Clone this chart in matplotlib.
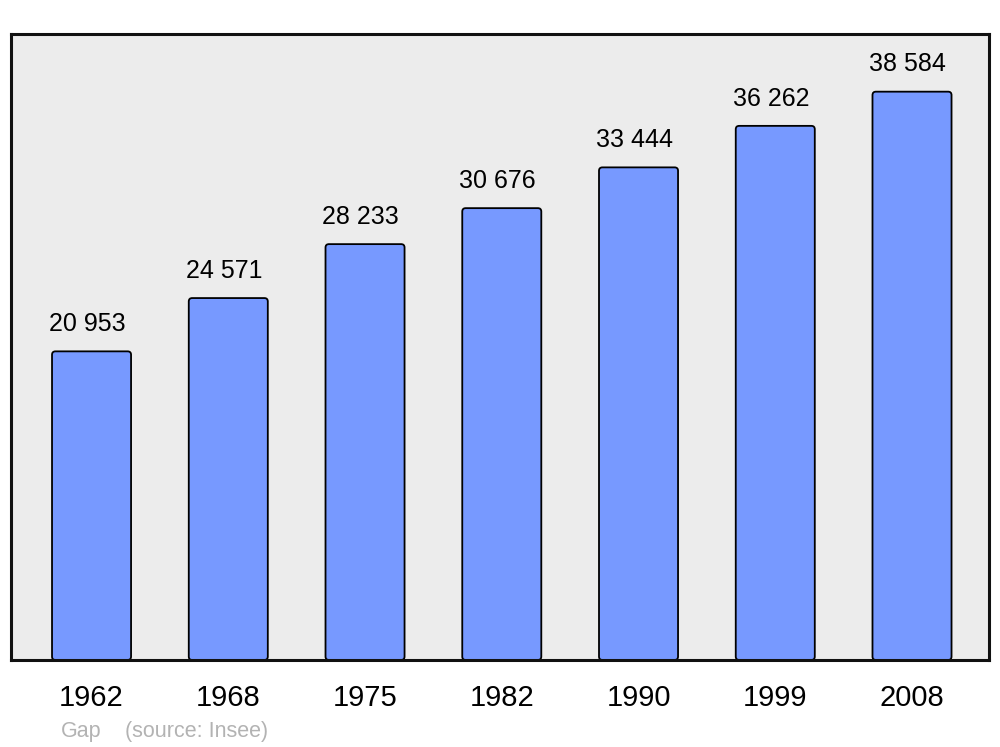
import matplotlib.pyplot as plt
from matplotlib.patches import FancyBboxPatch

plt.rcParams['font.family'] = ['Liberation Sans', 'DejaVu Sans']

# Data
years = ['1962', '1968', '1975', '1982', '1990', '1999', '2008']
population = [20953, 24571, 28233, 30676, 33444, 36262, 38584]
value_labels = ['20 953', '24 571', '28 233', '30 676', '33 444', '36 262', '38 584']

fig = plt.figure(figsize=(10, 7.47), dpi=100)
ax = fig.add_axes([0.011, 0.1165, 0.978, 0.838])
ax.set_facecolor('#ececec')

x = range(len(years))
bars = ax.bar(x, population, width=0.578, color='#7799ff', edgecolor='black', linewidth=1.3)

ax.set_xlim(-0.589, 6.563)
ax.set_ylim(0, 42500)

# swap the plain rectangles for slightly rounded ones
aspect = (42500 / (6.563 + 0.589)) * (978 / 626)
for b in bars:
    b.set_visible(False)
    ax.add_patch(FancyBboxPatch((b.get_x(), b.get_y()), b.get_width(), b.get_height(),
                                boxstyle='round,pad=0,rounding_size=0.025',
                                mutation_aspect=aspect,
                                facecolor='#7799ff', edgecolor='black', linewidth=1.3))

for i, (v, lab) in enumerate(zip(population, value_labels)):
    ax.annotate(lab, (i, v), xytext=(-3, 11), textcoords='offset points',
                ha='center', va='bottom', fontsize=18)

ax.set_xticks(list(x))
ax.set_xticklabels(years, fontsize=21)
ax.tick_params(axis='x', length=0, pad=17)
ax.set_yticks([])
for s in ax.spines.values():
    s.set_linewidth(2.2)
    s.set_color('#111111')

fig.text(0.061, 0.0135, 'Gap', color='#b3b3b3', fontsize=15.5, ha='left', va='baseline')
fig.text(0.125, 0.0135, '(source: Insee)', color='#b3b3b3', fontsize=15.5, ha='left', va='baseline')

fig.savefig('out.png', dpi=100)
